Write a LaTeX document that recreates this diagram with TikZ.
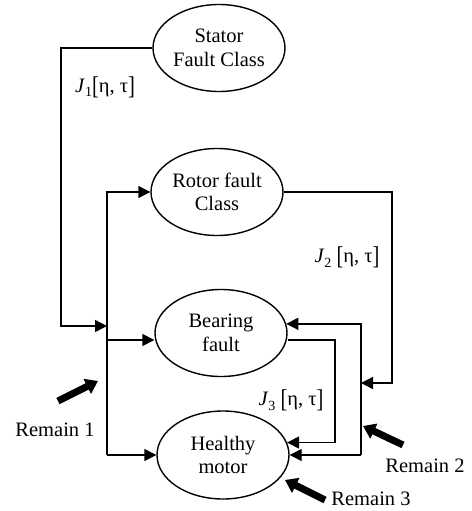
\documentclass[tikz,border=0pt]{standalone}
\usepackage{fontspec}
\usepackage{graphicx}
\setmainfont{Liberation Serif}
\usetikzlibrary{shapes.geometric,arrows.meta}

% J_i[eta, tau] label with tall brackets
\newcommand{\jlab}[2]{\textit{J}\raisebox{-0.45ex}{\fontsize{14}{14}\selectfont #1}#2\raisebox{-0.15ex}{\scalebox{1}[1.25]{[}}η, τ\raisebox{-0.15ex}{\scalebox{1}[1.25]{]}}}

\begin{document}
\begin{tikzpicture}[x=1pt,y=-1pt,
  every node/.style={font=\fontsize{20.5}{23.5}\selectfont},
  faultclass/.style={ellipse,draw,line width=1.4pt,minimum width=132pt,minimum height=87pt,inner sep=0pt,align=center},
  link/.style={line width=1.4pt},
  tip/.style={link,-{Triangle[length=12pt,width=12pt]}},
  remain/.style={line width=7pt,-{Triangle[length=12pt,width=16pt]}},
  lbl/.style={inner sep=0pt}]
\useasboundingbox (0,0) rectangle (471,511);

% fault classes
\node[faultclass] (stator)  at (219,48)  {Stator\\Fault Class};
\node[faultclass] (rotor)   at (217,192) {Rotor fault\\Class};
\node[faultclass] (bearing) at (221,333) {Bearing\\fault};
\node[faultclass,minimum height=88pt] (healthy) at (223,455) {Healthy\\motor};

% bus lines and junctions
\coordinate (lb) at (107,0);
\coordinate (rb) at (361,0);
\coordinate (jb) at (335,0);
\coordinate (j1) at (107,326);
\coordinate (j2) at (361,383);
\coordinate (bearin) at ([yshift=-7pt]bearing.west);
\coordinate (bearout) at ([yshift=-7pt]bearing.east);

% left side: stator feedback and distribution bus
\draw[tip] (stator.west) -| (61,326) -- (j1);
\draw[tip] (lb |- healthy.west) |- (rotor.west);
\draw[tip] (lb |- bearin) -- (bearin);
\draw[tip] (lb |- healthy.west) -- (healthy.west);

% right side: rotor feedback and second bus
\draw[tip] (rotor.east) -| (392,383) -- (j2);
\draw[tip] (rb |- healthy.east) |- (bearing.8);
\draw[tip] (rb |- healthy.east) -- (healthy.east);

% bearing feedback to healthy motor
\draw[tip] (bearout) -| (jb |- healthy.11) -- (healthy.11);

% transition labels
\node[lbl] (l1) at (105,87)  {\jlab{1}{}};
\node[lbl] (l2) at (347,257) {\jlab{2}{ }};
\node[lbl] (l3) at (291,400) {\jlab{3}{ }};

% remaining-class inputs
\node[lbl] (r1) at (55,430)  {Remain 1};
\node[lbl] (r2) at (425,466) {Remain 2};
\node[lbl] (r3) at (371,499) {Remain 3};
\coordinate (a1s) at (58,401);  \coordinate (a1e) at (98,381);
\coordinate (a2s) at (403,445); \coordinate (a2e) at (363,426);
\coordinate (a3s) at (325,500); \coordinate (a3e) at (285,480);
\draw[remain] (a1s) -- (a1e);
\draw[remain] (a2s) -- (a2e);
\draw[remain] (a3s) -- (a3e);
\end{tikzpicture}
\end{document}
